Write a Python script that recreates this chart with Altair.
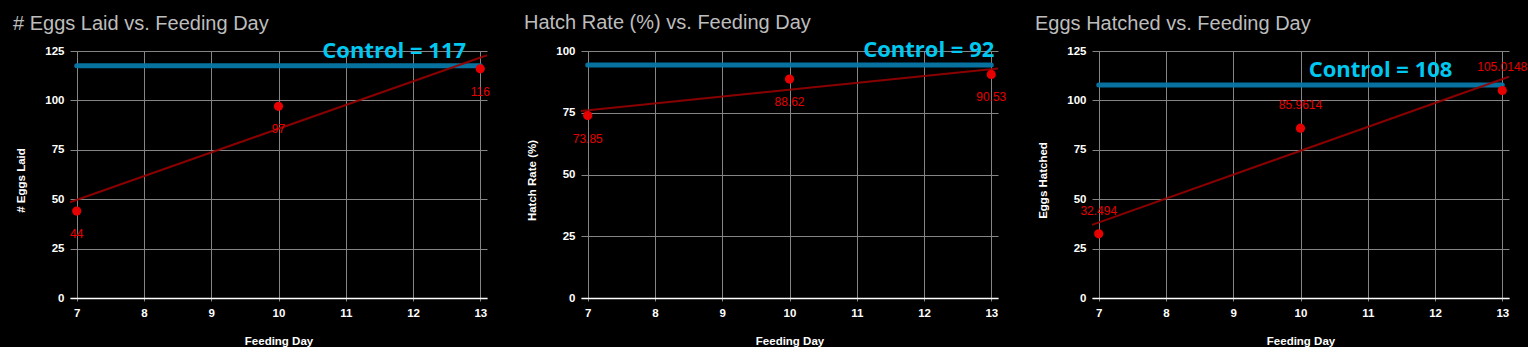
import altair as alt
import pandas as pd

# ---- data ----
days = [7, 10, 13]
eggs_laid = [44, 97, 116]
hatch_rate = [73.85, 88.62, 90.53]
eggs_hatched = [32.494, 85.9614, 105.0148]

titles = ["# Eggs Laid vs. Feeding Day", "Hatch Rate (%) vs. Feeding Day",
          "Eggs Hatched vs. Feeding Day"]
y_titles = ["# Eggs Laid", "Hatch Rate (%)", "Eggs Hatched"]
control_levels = [117.5, 94.3, 107.8]
control_labels = ["Control = 117", "Control = 92", "Control = 108"]
y_max = [125, 100, 125]
x_ticks = [7, 8, 9, 10, 11, 12, 13]

# ---- annotation placement (style, not data) ----
ctrl_text_x = [11.72, 12.07, 11.19]
ctrl_text_y = [121.7, 97.4, 111.8]
label_dy = [23, 23, -23]
title_dy = [0, 0, -5]

series = [eggs_laid, hatch_rate, eggs_hatched]

FONT = "Liberation Sans"
RED = "#e60000"
DARKRED = "#990000"
BLUE = "#0778a8"
CYAN = "#00c8f0"


def panel(i):
    vals = series[i]
    df = pd.DataFrame({"day": days, "value": vals, "label": [str(v) for v in vals]})
    xs = alt.Scale(domain=[6.9, 13.1], nice=False, zero=False)
    ys = alt.Scale(domain=[0, y_max[i]], nice=False)
    x = alt.X("day:Q", scale=xs, title="Feeding Day",
              axis=alt.Axis(values=x_ticks, format="d"))
    y = alt.Y("value:Q", scale=ys, title=y_titles[i],
              axis=alt.Axis(values=list(range(0, y_max[i] + 1, 25)), titleY=129))

    ctrl = pd.DataFrame({"day": [min(days)], "day2": [max(days)],
                         "value": [control_levels[i]]})
    ctrl_txt = pd.DataFrame({"day": [ctrl_text_x[i]], "value": [ctrl_text_y[i]],
                             "label": [control_labels[i]]})

    rule = alt.Chart(ctrl).mark_rule(color=BLUE, strokeWidth=5, strokeCap="round",
                                     opacity=0.95).encode(x=x, x2="day2:Q", y=y)
    trend = alt.Chart(df).transform_regression(
        "day", "value", extent=[6.9, 13.1]
    ).mark_line(color=DARKRED, strokeWidth=2, opacity=0.9).encode(x=x, y=y)
    pts = alt.Chart(df).mark_circle(color=RED, opacity=1, size=85).encode(x=x, y=y)
    lbl = alt.Chart(df).mark_text(color=RED, fontSize=12, font=FONT,
                                  dy=label_dy[i]).encode(x=x, y=y, text="label:N")
    ctxt = alt.Chart(ctrl_txt).mark_text(color=CYAN, fontSize=22, font="Open Sans",
                                         fontWeight="bold", baseline="alphabetic",
                                         align="center").encode(x=x, y=y, text="label:N")
    return alt.layer(rule, trend, pts, lbl, ctxt).properties(
        width=417, height=247,
        title=alt.TitleParams(titles[i], anchor="start", frame="group", dx=-57,
                              dy=title_dy[i], offset=6, fontSize=20, color="#bdbdbd",
                              font=FONT, fontWeight="normal"))


chart = alt.hconcat(panel(0), panel(1), panel(2), spacing=94, bounds="flush").properties(
    background="black",
    padding={"left": 13, "top": 13, "right": 0, "bottom": 0},
).configure_view(stroke=None).configure_axis(
    gridColor="#858585", gridWidth=1, labelColor="white", titleColor="white",
    labelFont=FONT, titleFont=FONT, labelFontSize=11.5, titleFontSize=11.5,
    titleFontWeight="bold", labelFontWeight="bold",
).configure_axisX(
    domainColor="white", domainWidth=1.5, tickColor="#858585", tickSize=3,
    labelPadding=6, titlePadding=17,
).configure_axisY(
    domain=False, ticks=False, labelPadding=6, titlePadding=18,
)

chart.save("out.html", embed_options={"renderer": "svg", "actions": False})
